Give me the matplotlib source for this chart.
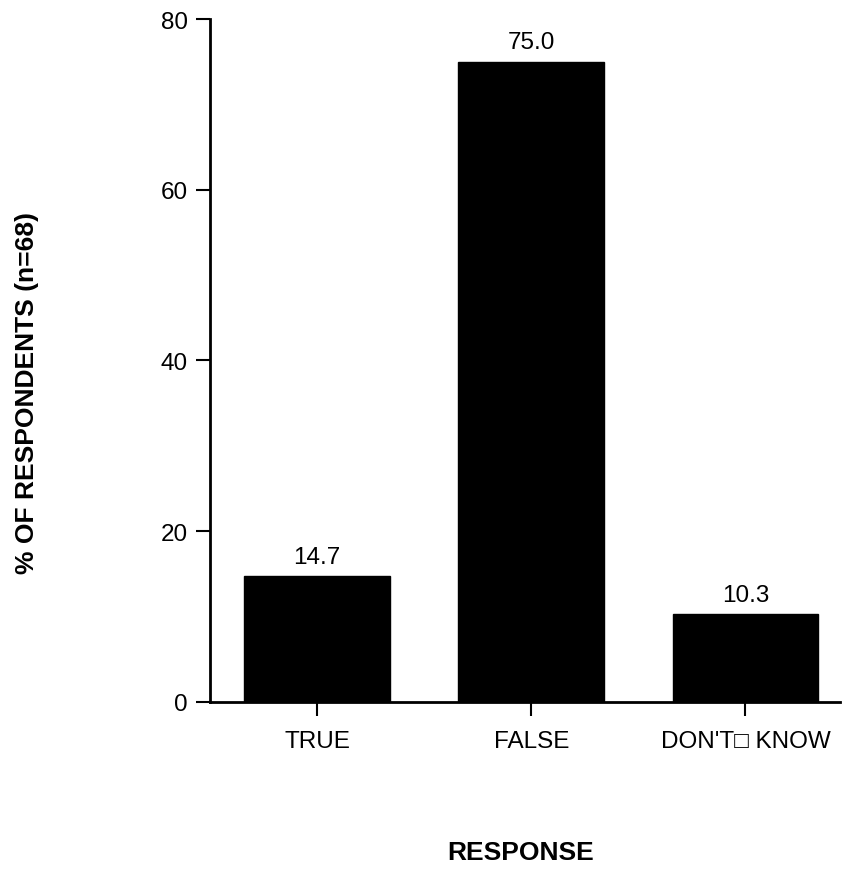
import matplotlib
matplotlib.use("Agg")
import matplotlib.pyplot as plt

categories = ["TRUE", "FALSE", "DON'T\u25A1 KNOW"]
values = [14.7, 75.0, 10.3]
yticks = [0, 20, 40, 60, 80]

plt.rcParams['font.family'] = ['Liberation Sans', 'DejaVu Sans']

fig = plt.figure(figsize=(8.43, 8.70), dpi=100)
ax = fig.add_axes([0.249, 0.192, 0.747, 0.785])

x = list(range(len(categories)))
ax.bar(x, values, width=0.68, color='black', edgecolor='black')
for xi, v in zip(x, values):
    ax.annotate(f"{v:.1f}", (xi, v), xytext=(0, 6), textcoords='offset points',
                ha='center', va='bottom', fontsize=17.5)

ax.set_xlim(-0.5, 2.44)
ax.set_ylim(0, 80)
ax.set_yticks(yticks)
ax.set_xticks(x)
ax.set_xticklabels(categories, fontsize=17.5)
ax.tick_params(axis='y', labelsize=17.5, length=10, width=1.5, direction='out', pad=6)
ax.tick_params(axis='x', length=10, width=1.5, direction='out', pad=10)
for s in ['top', 'right']:
    ax.spines[s].set_visible(False)
for s in ['left', 'bottom']:
    ax.spines[s].set_linewidth(2)

fig.text(0.032, 0.548, "% OF RESPONDENTS (n=68)", rotation=90, fontsize=19,
         fontweight='bold', ha='center', va='center')
fig.text(0.617, 0.0195, "RESPONSE", fontsize=19, fontweight='bold',
         ha='center', va='center')

fig.savefig("out.png", dpi=100)
